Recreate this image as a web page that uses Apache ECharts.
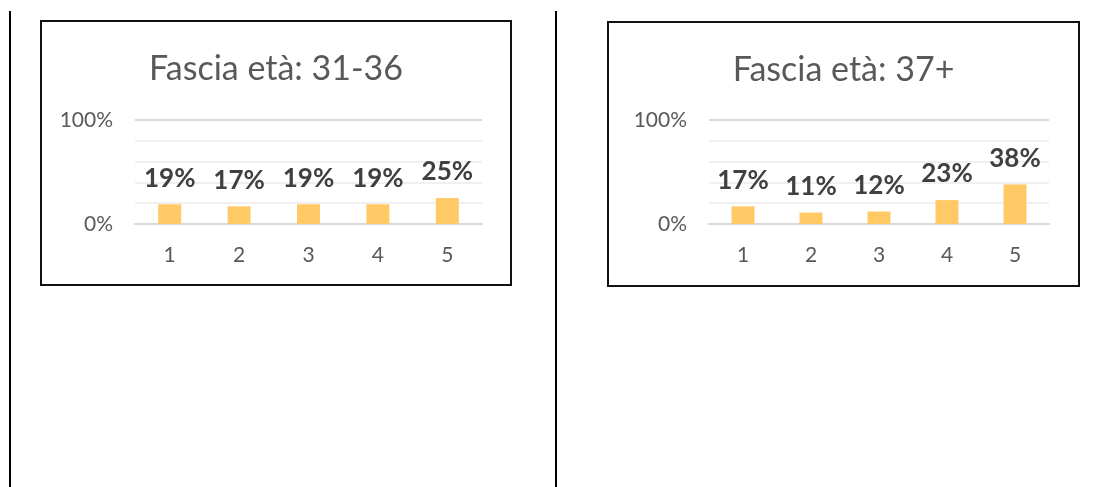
<!DOCTYPE html>
<html>
<head>
<meta charset="utf-8">
<script src="https://cdn.jsdelivr.net/npm/echarts@6/dist/echarts.min.js"></script>
<style>
  body { margin: 0; background: #fff; width: 1094px; height: 487px; position: relative; overflow: hidden; }
  .vline { position: absolute; top: 11px; bottom: 0; width: 2px; background: #000; }
  .box { position: absolute; border: 2px solid #111; background: #fff; }
</style>
</head>
<body>
<div class="vline" style="left:9px"></div>
<div class="vline" style="left:555px"></div>
<div class="box" id="chartA" style="left:40px;top:20px;width:468px;height:262px"></div>
<div class="box" id="chartB" style="left:607px;top:21px;width:469px;height:262px"></div>
<script>
var categories = ['1', '2', '3', '4', '5'];
var titleA = 'Fascia età: 31-36';
var valuesA = [19, 17, 19, 19, 25];
var titleB = 'Fascia età: 37+';
var valuesB = [17, 11, 12, 23, 38];

function makeOption(title, values, grid) {
    return {
        animation: false,
        title: {
            text: title,
            left: 'center',
            top: 25,
            textStyle: { fontFamily: 'Lato', fontSize: 34, fontWeight: 'normal', color: '#595959' }
        },
        grid: grid,
        xAxis: {
            type: 'category',
            data: categories,
            axisTick: { show: false },
            axisLine: { lineStyle: { color: '#d9d9d9', width: 2 } },
            axisLabel: { margin: 21, fontFamily: 'Lato', fontSize: 21, color: '#595959' }
        },
        yAxis: {
            type: 'value',
            min: 0,
            max: 100,
            interval: 100,
            axisLabel: { margin: 22, fontFamily: 'Lato', fontSize: 21, color: '#595959', formatter: '{value}%' },
            splitLine: { lineStyle: { color: '#d9d9d9', width: 2 } },
            minorTick: { show: false, splitNumber: 5 },
            minorSplitLine: { show: true, lineStyle: { color: '#f0f0f0', width: 2 } }
        },
        series: [{
            type: 'bar',
            data: values,
            barWidth: 23,
            itemStyle: { color: '#ffc966' },
            label: {
                show: true,
                position: 'top',
                distance: 13,
                formatter: '{c}%',
                fontFamily: 'Lato',
                fontSize: 26,
                fontWeight: 'bold',
                color: '#404040'
            }
        }]
    };
}

var chartA = echarts.init(document.getElementById('chartA'));
chartA.setOption(makeOption(titleA, valuesA, { left: 93, right: 28, top: 98, bottom: 60 }));
var chartB = echarts.init(document.getElementById('chartB'));
chartB.setOption(makeOption(titleB, valuesB, { left: 100, right: 29, top: 97, bottom: 61 }));
</script>
</body>
</html>
